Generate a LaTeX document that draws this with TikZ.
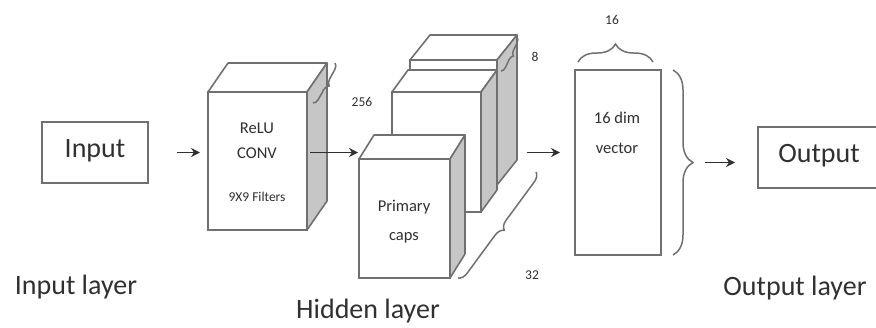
\documentclass[tikz,border=0pt]{standalone}
\usepackage{fontspec}
\setmainfont{Carlito}
\usetikzlibrary{decorations.pathreplacing,arrows.meta,calc}
\definecolor{edge}{HTML}{707070}
\definecolor{sidegray}{HTML}{C6C6C6}
\definecolor{ink}{HTML}{303030}
\newcommand\boxdepth[3]{%
  \draw[faceline,fill=white] (#1.north west) -- ++(#2,#3) -- ($(#1.north east)+(#2,#3)$) -- (#1.north east) -- cycle;
  \draw[faceline,fill=sidegray] (#1.north east) -- ++(#2,#3) -- ($(#1.south east)+(#2,#3)$) -- (#1.south east) -- cycle;}
\begin{document}
\begin{tikzpicture}[x=1pt,y=-1pt,
  faceline/.style={draw=edge,line width=1.6pt,line join=round},
  face/.style={draw=edge,line width=1.6pt,fill=white,inner sep=0pt,outer sep=0pt},
  plainbox/.style={draw=edge,line width=1.4pt,inner sep=0pt,outer sep=0pt},
  biglabel/.style={text=ink,font=\fontsize{28}{30}\selectfont,inner sep=0pt},
  midlabel/.style={text=ink,font=\fontsize{16.5}{18}\selectfont,inner sep=0pt},
  smalllabel/.style={text=ink,font=\fontsize{13.5}{15}\selectfont,inner sep=0pt},
  brc/.style={draw=edge,line width=1.5pt,decorate,decoration={brace,amplitude=#1}},
  arr/.style={draw=ink,line width=1.8pt,-{Stealth[length=9pt,width=9pt]}}]
\useasboundingbox (0,0) rectangle (876,327);

% input
\node[plainbox,minimum width=106pt,minimum height=61pt] (inp) at (95,152.5) {};
\node[biglabel] (inptxt) at (95,151) {Input};
\node[biglabel] (inlayer) at (76,287) {Input layer};

% conv block
\node[face,minimum width=99pt,minimum height=138pt] (conv) at (257.5,161) {};
\boxdepth{conv}{20}{-29}
\node[midlabel] (relu) at (257,128) {ReLU};
\node[midlabel] (convt) at (257,153) {CONV};
\node[smalllabel] (filt) at (257,197) {9X9 Filters};
\coordinate (cbA) at (335,63);
\coordinate (cbB) at (313,103);
\draw[brc=6pt] (cbA) -- (cbB);
\node[smalllabel] (n256) at (362,102) {256};

% primary caps stack
\node[face,minimum width=87pt,minimum height=125pt] (back) at (453.5,122.5) {};
\boxdepth{back}{20}{-25}
\node[face,minimum width=89pt,minimum height=120pt] (mid) at (436.5,152) {};
\boxdepth{mid}{16}{-22}
\node[face,minimum width=91pt,minimum height=119pt] (caps) at (404.5,218.5) {};
\boxdepth{caps}{15}{-24}
\node[midlabel] (prim) at (404,207) {Primary};
\node[midlabel] (capst) at (404,238) {caps};
\coordinate (ebA) at (517,37);
\coordinate (ebB) at (501,71);
\draw[brc=5pt] (ebA) -- (ebB);
\node[smalllabel] (n8) at (535,57) {8};
\coordinate (tbA) at (536,172);
\coordinate (tbB) at (458,278);
\draw[brc=9pt] (tbA) -- (tbB);
\node[smalllabel] (n32) at (532,275) {32};

% vector
\node[face,minimum width=86pt,minimum height=185pt] (vec) at (618,162.5) {};
\node[midlabel] (dim) at (617,118) {16 dim};
\node[midlabel] (vect) at (617,148) {vector};
\coordinate (vbA) at (578,62);
\coordinate (vbB) at (653,62);
\draw[brc=18pt] (vbA) -- (vbB);
\node[smalllabel] (n16) at (612,20) {16};
\coordinate (rbA) at (673,70);
\coordinate (rbB) at (673,255);
\draw[brc=20pt] (rbA) -- (rbB);

% output
\node[plainbox,minimum width=122pt,minimum height=61pt] (out) at (819,157.5) {};
\node[biglabel] (outtxt) at (819,156) {Output};
\node[biglabel] (outlayer) at (795,288) {Output layer};

\node[biglabel] (hidden) at (368,311) {Hidden layer};

% arrows
\draw[arr,shorten <=29pt,shorten >=8pt] (inp.east) -- (inp.east -| conv.west);
\draw[arr,shorten <=3pt,shorten >=1pt] (conv.east |- inp.east) -- (caps.west |- inp.east);
\draw[arr,shorten <=46pt,shorten >=15pt] (mid.east |- inp.east) -- (vec.west |- inp.east);
\draw[arr,shorten <=44pt,shorten >=23pt] (vec.east) -- (vec.east -| out.west);
\end{tikzpicture}
\end{document}
